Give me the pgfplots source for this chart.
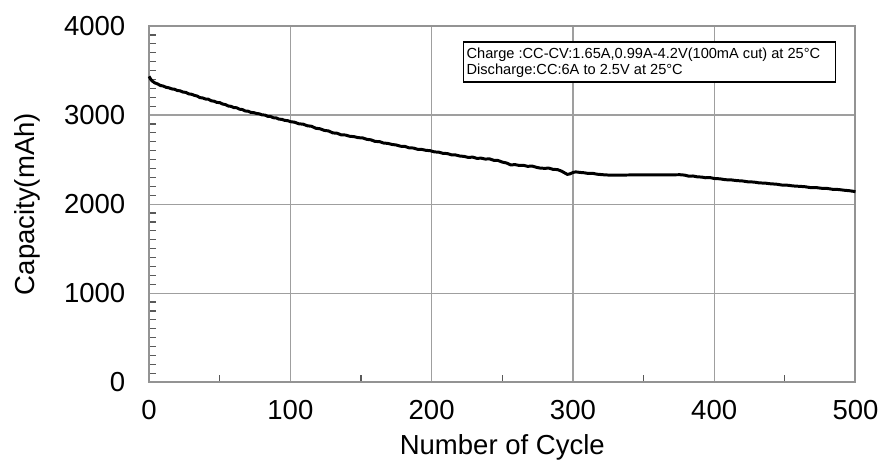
\documentclass[border=0pt]{standalone}
\usepackage{fontspec}
\setmainfont{Liberation Sans}
\usepackage{pgfplots}
\pgfplotsset{compat=1.18}

\begin{document}
\begin{tikzpicture}
  \begin{axis}[
    scale only axis, width=353bp, height=178bp,
    xmin=0, xmax=500, ymin=0, ymax=4000,
    xtick={0,100,...,500}, ytick={0,1000,...,4000},
    minor x tick num=1, minor y tick num=9,
    tick pos=left, tick align=inside,
    major tick length=0pt, minor tick length=3.5bp,
    minor tick style={gray!70!black, line width=0.6pt},
    grid=major, major grid style={gray!75, line width=0.6pt},
    axis line style={gray!85, line width=1pt},
    /pgf/number format/assume math mode=true,
    /pgf/number format/set thousands separator={},
    tick label style={font=\fontsize{13.75bp}{16bp}\selectfont},
    xticklabel style={yshift=-5.4bp},
    yticklabel style={xshift=-8.4bp},
    label style={font=\fontsize{13.75bp}{16bp}\selectfont},
    xlabel={Number of Cycle},
    ylabel={Capacity(mAh)},
    xlabel style={at={(axis description cs:0.5,-0.1826)}, anchor=center},
    ylabel style={at={(axis description cs:-0.1728,0.5)}, anchor=center},
    clip=false,
  ]
    % capacity fade, 6A discharge
    \addplot[black, line width=1.5pt, line join=round] coordinates {
      (0,3435)(1,3405)(2,3385)(4,3362)(6,3350)(8,3332)(10,3326)(12,3312)
      (14,3306)(16,3294)(18,3290)(20,3276)(22,3272)(24,3258)(26,3255)
      (28,3238)(30,3234)(32,3222)(34,3214)(36,3196)(38,3192)(40,3180)
      (42,3178)(44,3160)(46,3156)(48,3142)(50,3140)(52,3124)(54,3118)
      (56,3102)(58,3098)(60,3084)(62,3082)(64,3066)(66,3062)(68,3046)
      (70,3044)(72,3030)(74,3028)(76,3018)(78,3014)(80,3002)(82,3000)
      (84,2986)(86,2984)(88,2970)(90,2968)(92,2954)(94,2952)(96,2940)
      (98,2938)(100,2926)(103,2920)(106,2902)(109,2898)(112,2880)(115,2874)
      (118,2852)(121,2846)(124,2828)(127,2822)(130,2800)(133,2796)(136,2778)
      (139,2776)(142,2762)(145,2758)(148,2746)(151,2744)(154,2728)(157,2722)
      (160,2704)(163,2702)(166,2686)(169,2682)(172,2670)(175,2664)(178,2650)
      (181,2648)(184,2632)(187,2630)(190,2616)(193,2614)(196,2604)(199,2600)
      (202,2586)(205,2584)(208,2570)(211,2568)(214,2554)(217,2552)(220,2540)
      (223,2536)(226,2524)(229,2528)(232,2514)(235,2516)(238,2506)(241,2508)
      (244,2492)(247,2490)(250,2472)(253,2462)(256,2440)(259,2444)(262,2434)
      (265,2436)(268,2424)(271,2428)(274,2414)(277,2404)(280,2402)(283,2404)
      (286,2390)(289,2388)(292,2370)(294,2352)(296,2334)(298,2340)(300,2355)
      (302,2362)(305,2356)(308,2352)(311,2344)(314,2346)(317,2336)(320,2332)
      (323,2328)(326,2326)(376,2330)(379,2326)(382,2314)(385,2316)(388,2306)
      (391,2304)(394,2296)(397,2298)(400,2288)(404,2284)(408,2274)(412,2272)
      (416,2264)(420,2260)(424,2250)(428,2248)(432,2238)(436,2236)(440,2228)
      (444,2224)(448,2214)(452,2212)(456,2204)(460,2200)(464,2196)(468,2186)
      (472,2186)(476,2178)(480,2176)(484,2166)(488,2164)(492,2156)(496,2150)
      (500,2140)
    };
    % test conditions box
    \draw[black, fill=white, line width=0.6pt]
      (axis cs:222.4,3371) rectangle (axis cs:485.9,3820);
    \node[anchor=west, align=left, inner sep=0pt,
          font=\fontsize{7.3bp}{7.8bp}\selectfont]
      at (axis cs:224.5,3590)
      {Charge :CC-CV:1.65A,0.99A-4.2V(100mA cut) at 25°C\\
       Discharge:CC:6A to 2.5V at 25°C};
  \end{axis}
  \pgfresetboundingbox
  \path[use as bounding box] (-74.5bp,-43.5bp) rectangle (365.75bp,191bp);
\end{tikzpicture}
\end{document}
